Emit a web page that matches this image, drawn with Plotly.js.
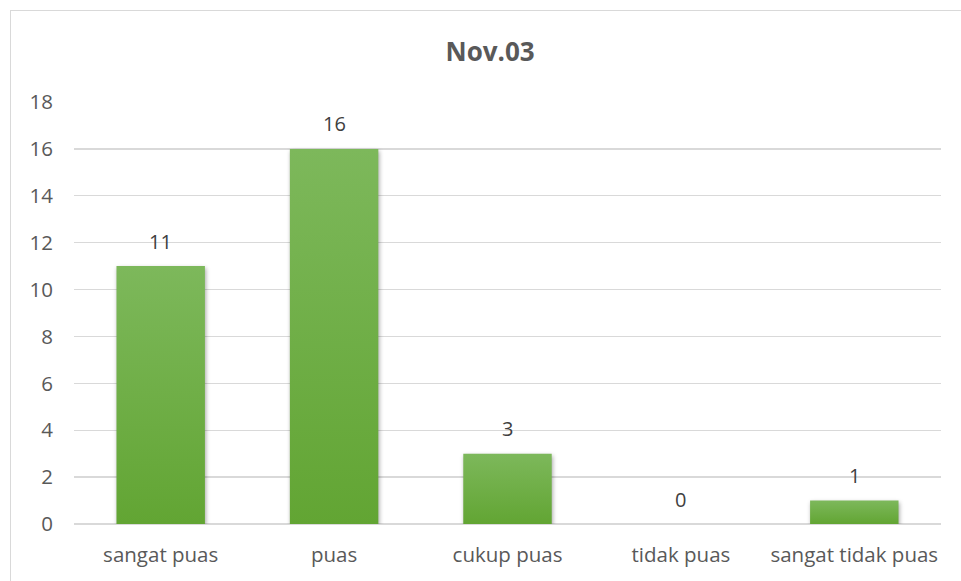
<!DOCTYPE html>
<html>
<head>
<meta charset="utf-8">
<script src="https://cdn.plot.ly/plotly-3.0.1.min.js"></script>
<style>
  html, body { margin: 0; padding: 0; background: #fff; overflow: hidden; }
  #wrap { position: relative; width: 961px; height: 581px; }
  #chart { width: 961px; height: 581px; }
  #frame {
    position: absolute; left: 10px; top: 10px; width: 1000px; height: 1000px;
    border: 1.5px solid #d9d9d9; pointer-events: none; box-sizing: border-box;
  }
  /* soft vertical gradient and drop shadow on the bars */
  #chart .bars .point path {
    fill: url(#barGrad) !important;
    filter: drop-shadow(1px 2px 2px rgba(0,0,0,0.35));
  }
</style>
</head>
<body>
<svg width="0" height="0" style="position:absolute">
  <defs>
    <linearGradient id="barGrad" x1="0" y1="0" x2="0" y2="1">
      <stop offset="0" stop-color="#7db85b"/>
      <stop offset="1" stop-color="#62a533"/>
    </linearGradient>
  </defs>
</svg>
<div id="wrap">
  <div id="chart"></div>
  <div id="frame"></div>
</div>
<script>
// Survey responses for the Nov.03 period
const categories = ['sangat puas', 'puas', 'cukup puas', 'tidak puas', 'sangat tidak puas'];
const counts = [11, 16, 3, 0, 1];
const yTicks = [0, 2, 4, 6, 8, 10, 12, 14, 16, 18];

const font = '"Open Sans", "Liberation Sans", sans-serif';

const trace = {
  type: 'bar',
  x: categories,
  y: counts,
  textposition: 'none',
  marker: { color: '#6eae45', line: { width: 0 } },
  hoverinfo: 'x+y'
};

// value labels floating above each bar
const labels = categories.map((c, i) => ({
  x: c,
  y: counts[i],
  xref: 'x',
  yref: 'y',
  text: String(counts[i]),
  showarrow: false,
  yanchor: 'middle',
  yshift: 25,
  font: { family: font, size: 20, color: '#404040' }
}));

const layout = {
  width: 961,
  height: 581,
  margin: { l: 74, r: 20, t: 102, b: 57 },
  paper_bgcolor: '#ffffff',
  plot_bgcolor: '#ffffff',
  bargap: 0.49,
  showlegend: false,
  annotations: labels,
  title: {
    text: '<b>Nov.03</b>',
    font: { family: font, size: 26, color: '#595959' },
    x: 0.51,
    xanchor: 'center',
    y: 0.91,
    yanchor: 'middle'
  },
  xaxis: {
    type: 'category',
    showgrid: false,
    zeroline: false,
    showline: false,
    ticks: '',
    ticklabelstandoff: 16,
    tickfont: { family: font, size: 20.5, color: '#595959' }
  },
  yaxis: {
    range: [0, 18],
    tickvals: yTicks,
    ticktext: yTicks.map(String),
    showgrid: true,
    gridcolor: '#d9d9d9',
    gridwidth: 1.3,
    zeroline: true,
    zerolinecolor: '#d9d9d9',
    zerolinewidth: 1.3,
    showline: false,
    ticks: '',
    ticklabelstandoff: 20,
    tickfont: { family: font, size: 20.5, color: '#595959' }
  }
};

Plotly.newPlot('chart', [trace], layout, { displayModeBar: false, staticPlot: true });
</script>
</body>
</html>
